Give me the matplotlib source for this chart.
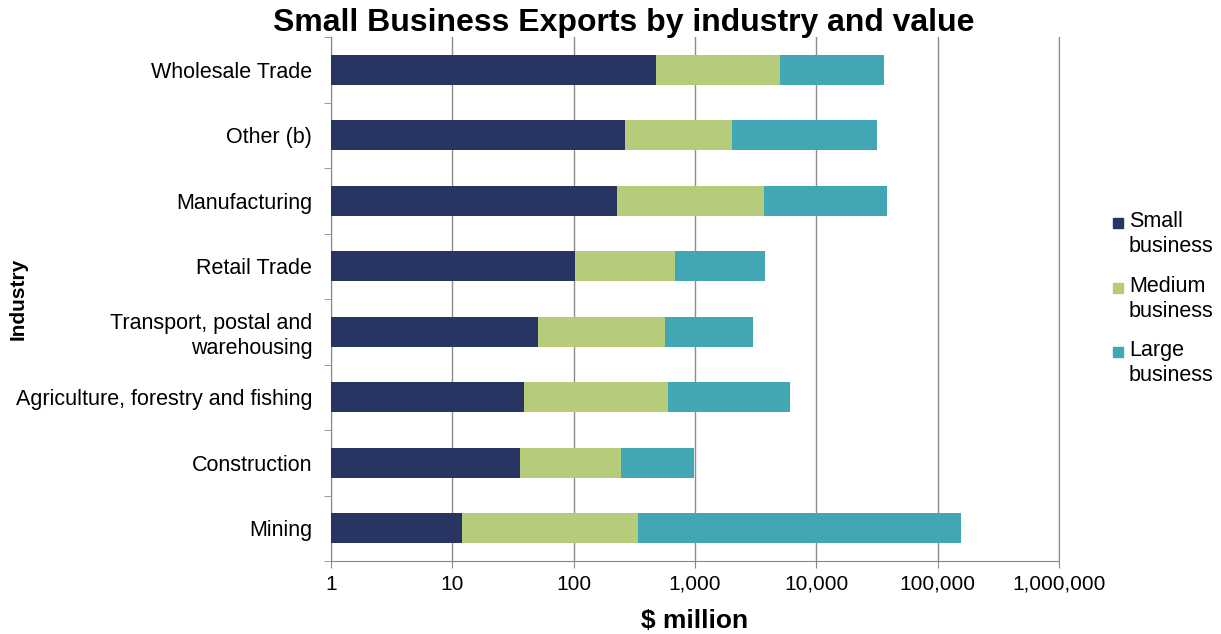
import matplotlib.pyplot as plt
from matplotlib.patches import Rectangle
import numpy as np

plt.rcParams["font.family"] = ["Liberation Sans", "DejaVu Sans"]

# categories listed bottom to top
industries = ["Mining", "Construction", "Agriculture, forestry and fishing",
              "Transport, postal and\nwarehousing", "Retail Trade", "Manufacturing",
              "Other (b)", "Wholesale Trade"]
small = [12, 36, 39, 51, 102, 227, 265, 475]
medium = [326, 209, 558, 513, 580, 3463, 1735, 4515]
large = [154662, 735, 5443, 2426, 3078, 34310, 29400, 30910]
series_names = ["Small\nbusiness", "Medium\nbusiness", "Large\nbusiness"]
colors = ["#283563", "#B6CC7A", "#41A7B5"]

W, H = 1221, 634
fig = plt.figure(figsize=(W / 100, H / 100), dpi=100)
ax = fig.add_axes([331 / W, 1 - 561 / H, (1059 - 331) / W, (561 - 37) / H])

y = np.arange(len(industries))
left = np.ones(len(industries))
for i, (vals, col) in enumerate(zip([small, medium, large], colors)):
    vals = np.array(vals, dtype=float)
    right = vals if i == 0 else left + vals
    ax.barh(y, right - left, left=left, height=0.46, color=col, zorder=3)
    left = right

ax.set_xscale("log")
ax.set_xlim(1, 1e6)
ax.set_ylim(-0.5, len(industries) - 0.5)
ticks = [1, 10, 100, 1000, 10000, 100000, 1000000]
ax.set_xticks(ticks)
ax.set_xticklabels([f"{t:,}" for t in ticks], fontsize=15)
ax.xaxis.set_minor_locator(plt.NullLocator())
ax.set_yticks(y)
ax.set_yticklabels(industries, fontsize=15.5, linespacing=1.25)
ax.set_yticks(np.arange(-0.5, len(industries), 1), minor=True)
ax.tick_params(axis="y", which="major", length=0, pad=13.5)
ax.tick_params(axis="y", which="minor", length=5, color="#888888")
ax.tick_params(axis="x", length=5, color="#888888", pad=5)
ax.grid(axis="x", color="#8c8c8c", linewidth=1, zorder=0)

ax.spines["top"].set_visible(False)
ax.spines["left"].set_color("#888888")
ax.spines["bottom"].set_color("#888888")
ax.spines["right"].set_color("#8c8c8c")

fig.text(695 / W, 1 - 621 / H, "$ million", ha="center", va="center",
         fontsize=19, fontweight="bold")
fig.text(18 / W, 1 - 299 / H, "Industry", ha="center", va="center",
         rotation=90, fontsize=15, fontweight="bold")
fig.text(624 / W, 1 - 23 / H, "Small Business Exports by industry and value",
         ha="center", va="center", fontsize=23, fontweight="bold")

# legend: square marker level with the first text line
legend_y = [223, 288, 352]
for name, col, ly in zip(series_names, colors, legend_y):
    fig.patches.append(Rectangle((1113 / W, 1 - (ly + 5) / H), 10 / W, 10 / H,
                                 transform=fig.transFigure, color=col))
    fig.text(1129 / W, 1 - (ly - 12) / H, name, ha="left", va="top",
             fontsize=15.5, linespacing=1.25)

fig.savefig("out.png", dpi=100)
